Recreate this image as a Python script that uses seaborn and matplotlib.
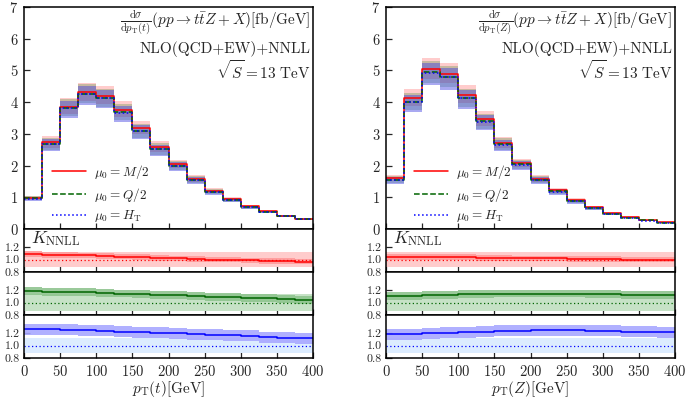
import numpy as np
import pandas as pd
import matplotlib
matplotlib.use("Agg")
import matplotlib.pyplot as plt
import seaborn as sns

# ---------------- data ----------------
edges = [0, 25, 50, 75, 100, 125, 150, 175, 200, 225, 250, 275, 300, 325, 350, 375, 400]
xticks = [0, 50, 100, 150, 200, 250, 300, 350, 400]

# pT(t) distributions [fb/GeV]
mu_M_t = [0.98, 2.73, 3.86, 4.31, 4.20, 3.76, 3.18, 2.58, 2.04, 1.58, 1.21, 0.94, 0.71, 0.56, 0.41, 0.32]
mu_Q_t = [0.97, 2.69, 3.82, 4.26, 4.14, 3.68, 3.10, 2.52, 1.99, 1.55, 1.18, 0.92, 0.69, 0.54, 0.40, 0.31]
mu_H_t = [0.96, 2.68, 3.81, 4.25, 4.13, 3.67, 3.09, 2.51, 1.98, 1.54, 1.17, 0.91, 0.68, 0.54, 0.40, 0.31]

# pT(Z) distributions [fb/GeV]
mu_M_z = [1.60, 4.12, 5.04, 4.89, 4.23, 3.47, 2.71, 2.07, 1.58, 1.22, 0.91, 0.68, 0.49, 0.37, 0.27, 0.21]
mu_Q_z = [1.56, 4.02, 4.95, 4.80, 4.14, 3.40, 2.67, 2.04, 1.55, 1.19, 0.88, 0.66, 0.48, 0.36, 0.27, 0.20]
mu_H_z = [1.55, 4.00, 4.93, 4.78, 4.12, 3.38, 2.66, 2.03, 1.54, 1.18, 0.87, 0.65, 0.47, 0.36, 0.26, 0.20]

# relative scale-uncertainty (up, down) of the main-panel bands
unc_M = (0.07, 0.06)
unc_Q = (0.07, 0.07)
unc_H = (0.06, 0.08)

# K factors (NNLL / NLO)
K_M_t = [1.09, 1.08, 1.08, 1.07, 1.06, 1.05, 1.04, 1.03, 1.02, 1.01, 1.00, 1.00, 0.99, 0.98, 0.98, 0.97]
K_Q_t = [1.19, 1.18, 1.18, 1.17, 1.16, 1.15, 1.14, 1.13, 1.12, 1.11, 1.10, 1.09, 1.08, 1.07, 1.06, 1.05]
K_H_t = [1.27, 1.27, 1.26, 1.25, 1.24, 1.23, 1.22, 1.21, 1.20, 1.19, 1.18, 1.17, 1.16, 1.14, 1.13, 1.12]
K_M_z = [1.04, 1.04, 1.04, 1.04, 1.04, 1.03, 1.03, 1.02, 1.02, 1.02, 1.01, 1.01, 1.01, 1.00, 1.00, 1.00]
K_Q_z = [1.11, 1.11, 1.12, 1.13, 1.14, 1.14, 1.15, 1.15, 1.15, 1.15, 1.15, 1.14, 1.14, 1.13, 1.13, 1.12]
K_H_z = [1.19, 1.19, 1.20, 1.21, 1.22, 1.23, 1.24, 1.24, 1.25, 1.25, 1.25, 1.24, 1.24, 1.23, 1.23, 1.22]

# NNLL band half-width on K, and normalised NLO band (lo, hi)
K_half = {"M": 0.045, "Q": 0.065, "H": 0.09}
nlo_band = {"M": (0.88, 1.12), "Q": (0.87, 1.14), "H": (0.88, 1.12)}

legend_labels = [r"$\mu_0 = M/2$", r"$\mu_0 = Q/2$", r"$\mu_0 = H_{\mathrm{T}}$"]
titles = [r"$\frac{\mathrm{d}\sigma}{\mathrm{d}p_{\mathrm{T}}(t)}(pp\rightarrow t\bar{t}Z+X)[\mathrm{fb/GeV}]$",
          r"$\frac{\mathrm{d}\sigma}{\mathrm{d}p_{\mathrm{T}}(Z)}(pp\rightarrow t\bar{t}Z+X)[\mathrm{fb/GeV}]$"]
xlabels = [r"$p_{\mathrm{T}}(t)[\mathrm{GeV}]$", r"$p_{\mathrm{T}}(Z)[\mathrm{GeV}]$"]

# ---------------- style ----------------
sns.set_style("ticks")
plt.rcParams["font.family"] = ["cmr10", "DejaVu Serif"]
plt.rcParams["mathtext.fontset"] = "cm"
plt.rcParams["axes.formatter.use_mathtext"] = True
plt.rcParams["axes.linewidth"] = 1.1
plt.rcParams["axes.edgecolor"] = "black"

line_col = {"M": "#ff0000", "Q": "#006400", "H": "#0000ff"}
line_ls = {"M": "-", "Q": "--", "H": ":"}
band_main = {"M": ("#ff8080", 0.40), "Q": ("#208020", 0.25), "H": ("#4040e0", 0.45)}
band_light = {"M": "#ffcccc", "Q": "#c6e2c6", "H": "#dcecff"}
band_dark = {"M": "#ff9a9a", "Q": "#8fc48f", "H": "#a8a8ff"}

W, H = 685, 399
fig = plt.figure(figsize=(W / 100, H / 100), dpi=100)

cols = [(24, 313), (386, 675)]
rows_main = (7, 229)
rows_ratio = [(229, 272), (272, 315), (315, 358)]


def ax_at(x0, x1, y0, y1):
    return fig.add_axes([x0 / W, 1 - y1 / H, (x1 - x0) / W, (y1 - y0) / H])


def stepy(v):
    return list(v) + [v[-1]]


datasets = [
    {"M": mu_M_t, "Q": mu_Q_t, "H": mu_H_t},
    {"M": mu_M_z, "Q": mu_Q_z, "H": mu_H_z},
]
kdatasets = [
    {"M": K_M_t, "Q": K_Q_t, "H": K_H_t},
    {"M": K_M_z, "Q": K_Q_z, "H": K_H_z},
]
unc = {"M": unc_M, "Q": unc_Q, "H": unc_H}
keys = ["M", "Q", "H"]

for ci, (cx0, cx1) in enumerate(cols):
    ax = ax_at(cx0, cx1, *rows_main)
    d = datasets[ci]
    # bands
    for k in keys:
        v = np.array(stepy(d[k]))
        up, dn = unc[k]
        c, a = band_main[k]
        ax.fill_between(edges, v * (1 - dn), v * (1 + up), step="post",
                        color=c, alpha=a, linewidth=0)
    # central lines
    for k, lab in zip(keys, legend_labels):
        df = pd.DataFrame({"x": edges, "y": stepy(d[k])})
        sns.lineplot(data=df, x="x", y="y", ax=ax, color=line_col[k],
                     linestyle=line_ls[k], drawstyle="steps-post",
                     linewidth=1.1, label=lab)
    ax.set_xlim(0, 400)
    ax.set_ylim(0, 7)
    ax.set_yticks(range(0, 8))
    ax.set_xticks(xticks)
    ax.tick_params(axis="both", direction="in", length=4, width=0.9,
                   top=False, right=False, labelsize=10.5, pad=4)
    ax.tick_params(axis="x", labelbottom=False)
    ax.set_xlabel("")
    ax.set_ylabel("")
    ax.legend(loc="lower left", bbox_to_anchor=(0.065, -0.02), frameon=False,
              fontsize=9.5, handlelength=2.6, labelspacing=0.35, handletextpad=0.55,
              borderaxespad=0.3)
    ax.text(0.99, 0.992, titles[ci], transform=ax.transAxes, ha="right", va="top", fontsize=11)
    ax.text(0.99, 0.812, "NLO(QCD+EW)+NNLL", transform=ax.transAxes, ha="right", va="center", fontsize=11)
    ax.text(0.99, 0.712, r"$\sqrt{S} = 13\ \mathrm{TeV}$", transform=ax.transAxes,
            ha="right", va="center", fontsize=11)

    # ratio panels
    kd = kdatasets[ci]
    for ri, k in enumerate(keys):
        rax = ax_at(cx0, cx1, *rows_ratio[ri])
        lo, hi = nlo_band[k]
        rax.fill_between([0, 400], [lo, lo], [hi, hi], color=band_light[k], linewidth=0)
        kv = np.array(stepy(kd[k]))
        rax.fill_between(edges, kv - K_half[k], kv + K_half[k], step="post",
                         color=band_dark[k], linewidth=0, alpha=0.9)
        rax.axhline(1.0, color=line_col[k], linestyle=(0, (1, 2)), linewidth=0.9)
        dfk = pd.DataFrame({"x": edges, "y": list(kv)})
        sns.lineplot(data=dfk, x="x", y="y", ax=rax, color=line_col[k],
                     drawstyle="steps-post", linewidth=1.1)
        if rax.get_legend() is not None:
            rax.get_legend().remove()
        rax.set_xlim(0, 400)
        rax.set_ylim(0.8, 1.5)
        rax.set_yticks([0.8, 1.0, 1.2])
        rax.set_yticklabels(["0.8", "1.0", "1.2"])
        rax.set_xticks(xticks)
        rax.tick_params(axis="both", direction="in", length=4, width=0.9,
                        top=False, right=False, pad=3)
        rax.tick_params(axis="y", labelsize=8.5)
        rax.set_ylabel("")
        if ri == 0:
            rax.text(0.025, 0.78, r"$K_{\mathrm{NNLL}}$", transform=rax.transAxes,
                     ha="left", va="center", fontsize=12.5)
        if ri < 2:
            rax.tick_params(axis="x", labelbottom=False)
            rax.set_xlabel("")
        else:
            rax.tick_params(axis="x", labelsize=10.5, pad=4)
            rax.set_xlabel(xlabels[ci], fontsize=11, labelpad=0)

fig.savefig("out.png", dpi=100)
